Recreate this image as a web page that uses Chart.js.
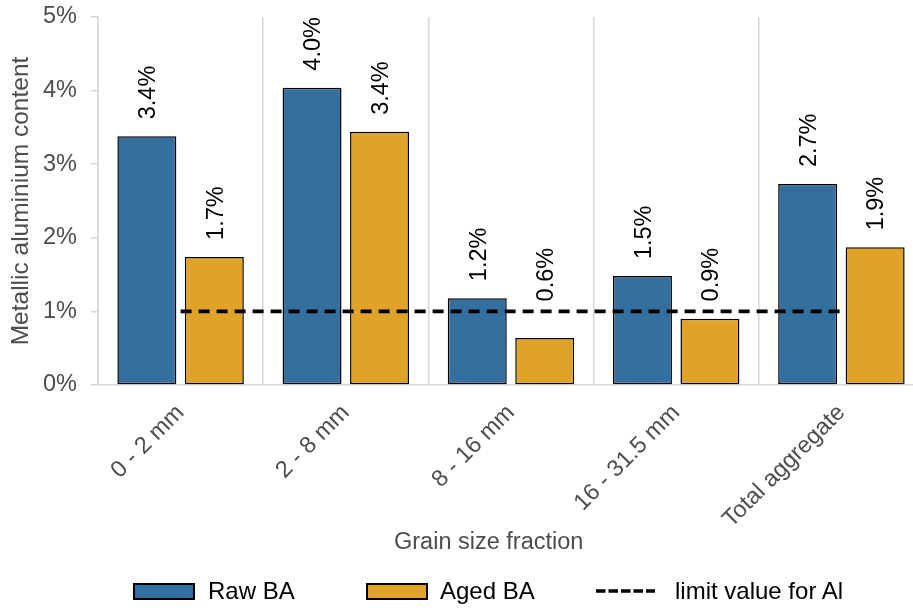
<!DOCTYPE html>
<html>
<head>
<meta charset="utf-8">
<script src="https://cdn.jsdelivr.net/npm/chart.js@4.4.1/dist/chart.umd.min.js"></script>
<style>
  html, body { margin: 0; padding: 0; background: #fff; overflow: hidden; width: 913px; height: 610px; }
  #wrap { position: relative; width: 926px; height: 610px; }
  canvas { position: absolute; left: 0; top: 0; }
  .t { position: absolute; font-family: "Liberation Sans", Arial, sans-serif; white-space: nowrap; }
  .lg { font-size: 24px; line-height: 24px; color: #000; top: 579px; }
  .box { position: absolute; top: 583px; width: 58px; height: 13px; border: 2px solid #000; }
</style>
</head>
<body>
<div id="wrap">
  <canvas id="c" width="926" height="610"></canvas>
  <div class="t" id="xtitle" style="left:394px; top:529px; font-size:23.5px; line-height:24px; color:#4d4d4d;">Grain size fraction</div>
  <div class="box" style="left:133px; background:#3370a0;"></div>
  <div class="t lg" style="left:208px;">Raw BA</div>
  <div class="box" style="left:366px; background:#e0a328;"></div>
  <div class="t lg" style="left:440px;">Aged BA</div>
  <svg style="position:absolute; left:596px; top:585px;" width="60" height="12">
    <line x1="0" y1="6" x2="59" y2="6" stroke="#000" stroke-width="3.4" stroke-dasharray="9.5,3"/>
  </svg>
  <div class="t lg" style="left:675px;">limit value for Al</div>
</div>
<script>
const categories = ["0 - 2 mm", "2 - 8 mm", "8 - 16 mm", "16 - 31.5 mm", "Total aggregate"];
const rawBA = [3.38, 4.04, 1.18, 1.48, 2.73];
const agedBA = [1.74, 3.44, 0.64, 0.90, 1.87];
const limitAl = [1, 1, 1, 1, 1];
const yTicks = [0, 1, 2, 3, 4, 5];

const FONT = '"Liberation Sans", Arial, sans-serif';
const GRID = '#d6d6d6';
const AXIS_TXT = '#4d4d4d';

const barLabels = {
  id: 'barLabels',
  afterDatasetsDraw(chart) {
    const ctx = chart.ctx;
    const yScale = chart.scales.y;
    chart.data.datasets.forEach((ds, i) => {
      if (ds.type !== 'bar') return;
      const meta = chart.getDatasetMeta(i);
      meta.data.forEach((el, j) => {
        const v = ds.data[j];
        // labels of bars below the limit sit above the limit line
        const anchorY = Math.min(el.y, yScale.getPixelForValue(limitAl[j]) + 7);
        ctx.save();
        ctx.translate(el.x + 8.3, anchorY - 17);
        ctx.rotate(-Math.PI / 2);
        ctx.font = '23.5px ' + FONT;
        ctx.fillStyle = '#000';
        ctx.textAlign = 'left';
        ctx.textBaseline = 'alphabetic';
        ctx.fillText(v.toFixed(1) + '%', 0, 0);
        ctx.restore();
      });
    });
  }
};

new Chart(document.getElementById('c'), {
  data: {
    labels: categories,
    datasets: [
      {
        type: 'line', label: 'limit value for Al', data: limitAl,
        borderColor: '#000', borderWidth: 3.7, borderDash: [11, 7],
        pointRadius: 0, fill: false, order: 0
      },
      {
        type: 'bar', label: 'Raw BA', data: rawBA,
        backgroundColor: '#3370a0', borderColor: '#000', borderWidth: 1.5,
        borderSkipped: false, categoryPercentage: 0.817, barPercentage: 0.874, order: 1
      },
      {
        type: 'bar', label: 'Aged BA', data: agedBA,
        backgroundColor: '#e0a328', borderColor: '#000', borderWidth: 1.5,
        borderSkipped: false, categoryPercentage: 0.817, barPercentage: 0.874, order: 1
      }
    ]
  },
  options: {
    responsive: false,
    animation: false,
    devicePixelRatio: 1,
    layout: { padding: { top: 17, right: 2, bottom: 0, left: 0 } },
    plugins: { legend: { display: false }, tooltip: { enabled: false } },
    scales: {
      x: {
        type: 'category',
        offset: true,
        grid: { offset: true, color: GRID, lineWidth: 1.5, drawTicks: false },
        border: { display: true, color: GRID, width: 1.5 },
        ticks: {
          autoSkip: false, minRotation: 45, maxRotation: 45, padding: 14,
          color: AXIS_TXT, font: { family: FONT, size: 23.5 }
        },
        afterFit: (s) => { s.height = 225; s.paddingLeft = 0; s.paddingRight = 0; s.paddingTop = 0; s.paddingBottom = 0; }
      },
      y: {
        min: 0, max: 5,
        afterBuildTicks: (s) => { s.ticks = yTicks.map(v => ({ value: v })); },
        grid: { drawOnChartArea: false, drawTicks: true, tickLength: 7, color: GRID, lineWidth: 1.5 },
        border: { display: true, color: GRID, width: 1.5 },
        ticks: {
          padding: 14, color: AXIS_TXT, font: { family: FONT, size: 23.5 },
          callback: (v) => v + '%'
        },
        title: {
          display: true, text: 'Metallic aluminium content', color: AXIS_TXT,
          font: { family: FONT, size: 24.5 }, padding: { top: 7, bottom: 0 }
        },
        afterFit: (s) => { s.width = 98; s.paddingTop = 0; s.paddingBottom = 0; s.paddingLeft = 0; s.paddingRight = 0; }
      }
    }
  },
  plugins: [barLabels]
});
</script>
</body>
</html>
